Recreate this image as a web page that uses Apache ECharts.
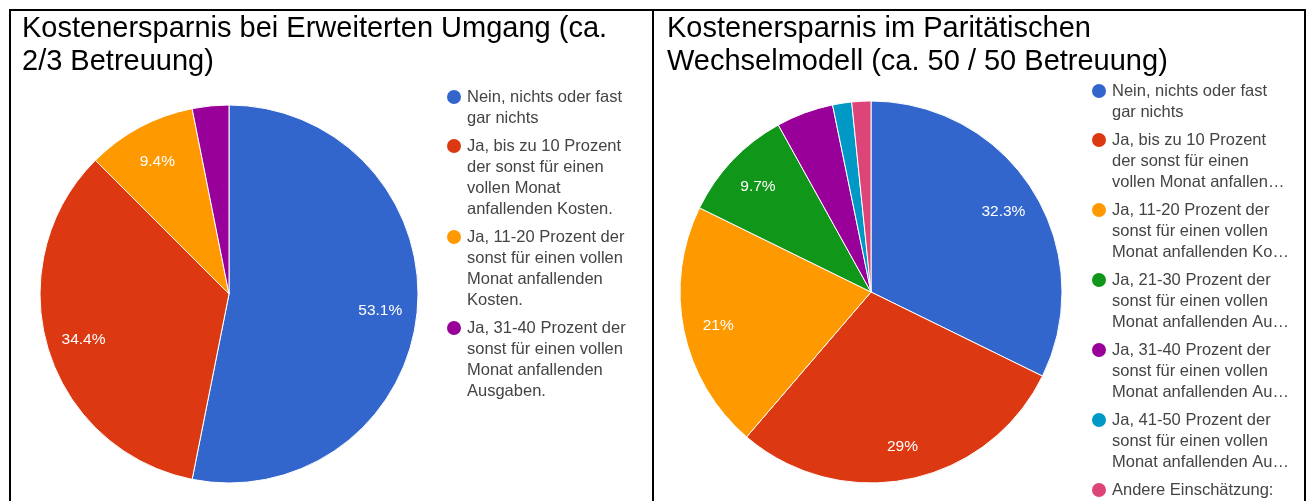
<!DOCTYPE html>
<html>
<head>
<meta charset="utf-8">
<script src="https://cdn.jsdelivr.net/npm/echarts@6/dist/echarts.min.js"></script>
<style>
  html, body { margin: 0; padding: 0; background: #fff; }
  #chart { position: absolute; left: 0; top: 0; width: 1311px; height: 501px; }
  .frame { position: absolute; top: 9px; height: 600px; border: 2px solid #000; box-sizing: border-box; pointer-events: none; }
</style>
</head>
<body>
<div id="chart"></div>
<div class="frame" style="left:9px; width:645px;"></div>
<div class="frame" style="left:652px; width:654px;"></div>
<script>
// Antwortkategorien (volle Namen)
const catNein = 'Nein, nichts oder fast gar nichts';
const cat10 = 'Ja, bis zu 10 Prozent der sonst für einen vollen Monat anfallenden Kosten.';
const cat20 = 'Ja, 11-20 Prozent der sonst für einen vollen Monat anfallenden Kosten.';
const cat30 = 'Ja, 21-30 Prozent der sonst für einen vollen Monat anfallenden Ausgaben.';
const cat40 = 'Ja, 31-40 Prozent der sonst für einen vollen Monat anfallenden Ausgaben.';
const cat50 = 'Ja, 41-50 Prozent der sonst für einen vollen Monat anfallenden Ausgaben.';
const catAndere = 'Andere Einschätzung:';

// linkes Diagramm: Erweiterter Umgang
const leftTitle = 'Kostenersparnis bei Erweiterten Umgang (ca.\n2/3 Betreuung)';
const leftCategories = [catNein, cat10, cat20, cat40];
const leftValues = [17, 11, 3, 1];
const leftColors = ['#3366cc', '#dc3912', '#ff9900', '#990099'];
const leftLegendText = [
  'Nein, nichts oder fast\ngar nichts',
  'Ja, bis zu 10 Prozent\nder sonst für einen\nvollen Monat\nanfallenden Kosten.',
  'Ja, 11-20 Prozent der\nsonst für einen vollen\nMonat anfallenden\nKosten.',
  'Ja, 31-40 Prozent der\nsonst für einen vollen\nMonat anfallenden\nAusgaben.'
];

// rechtes Diagramm: Paritätisches Wechselmodell
const rightTitle = 'Kostenersparnis im Paritätischen\nWechselmodell (ca. 50 / 50 Betreuung)';
const rightCategories = [catNein, cat10, cat20, cat30, cat40, cat50, catAndere];
const rightValues = [20, 18, 13, 6, 3, 1, 1];
const rightColors = ['#3366cc', '#dc3912', '#ff9900', '#109618', '#990099', '#0099c6', '#dd4477'];
const rightLegendText = [
  'Nein, nichts oder fast\ngar nichts',
  'Ja, bis zu 10 Prozent\nder sonst für einen\nvollen Monat anfallen…',
  'Ja, 11-20 Prozent der\nsonst für einen vollen\nMonat anfallenden Ko…',
  'Ja, 21-30 Prozent der\nsonst für einen vollen\nMonat anfallenden Au…',
  'Ja, 31-40 Prozent der\nsonst für einen vollen\nMonat anfallenden Au…',
  'Ja, 41-50 Prozent der\nsonst für einen vollen\nMonat anfallenden Au…',
  'Andere Einschätzung:'
];

const FONT = '"Liberation Sans", Arial, sans-serif';
const LINE_H = 21;

function pieData(cats, vals, colors) {
  return cats.map((c, i) => ({ name: c, value: vals[i], itemStyle: { color: colors[i] } }));
}

// Legendentext: Leerzeilen davor, damit die erste Zeile neben dem Punkt steht
// (ECharts zentriert den Textblock senkrecht am Symbol)
function padLines(txt, minLines) {
  const n = txt.split('\n').length;
  const m = Math.max(n, minLines);
  return '\n'.repeat(m - 1) + txt + '\n'.repeat(m - n);
}

function legendOpt(cats, texts, left, firstY, lines) {
  // Abstand so, dass Einträge 7px Luft haben
  const gap = 28 - LINE_H * lines;
  const firstN = texts[0].split('\n').length;
  return {
    orient: 'vertical',
    left: left,
    top: firstY - (2 * firstN - 1) * LINE_H / 2,
    height: 900,
    padding: 0,
    icon: 'circle',
    itemWidth: 16,
    itemHeight: 16,
    itemGap: gap,
    selectedMode: false,
    data: cats,
    formatter: name => {
      const i = cats.indexOf(name);
      return padLines(texts[i], i > 0 ? lines : 0);
    },
    textStyle: {
      fontFamily: FONT,
      fontSize: 16.5,
      lineHeight: LINE_H,
      color: '#444'
    }
  };
}

function mainPie(cats, vals, colors, center, radius) {
  return {
    type: 'pie',
    center: center,
    radius: radius,
    startAngle: 90,
    data: pieData(cats, vals, colors),
    label: { show: false },
    labelLine: { show: false },
    itemStyle: { borderColor: '#fff', borderWidth: 1 },
    emphasis: { disabled: true }
  };
}

// unsichtbarer Ring nur für die Prozent-Beschriftungen
function labelPie(cats, vals, colors, center, radius) {
  return {
    type: 'pie',
    center: center,
    radius: radius,
    startAngle: 90,
    silent: true,
    percentPrecision: 1,
    data: cats.map((c, i) => ({ name: c, value: vals[i] })),
    itemStyle: { color: 'rgba(0,0,0,0)', borderColor: 'rgba(0,0,0,0)', borderWidth: 0 },
    labelLine: { show: false },
    label: {
      show: true,
      position: 'inside',
      color: '#fff',
      fontFamily: FONT,
      fontSize: 15.5,
      formatter: p => (p.percent < 5 ? '' : p.percent + '%')
    },
    emphasis: { disabled: true }
  };
}

const chart = echarts.init(document.getElementById('chart'), null, { renderer: 'canvas' });
chart.setOption({
  animation: false,
  backgroundColor: '#fff',
  title: [
    {
      text: leftTitle, left: 22, top: 12, padding: 0,
      textStyle: { fontFamily: FONT, fontSize: 29, fontWeight: 'normal', lineHeight: 33, color: '#000' }
    },
    {
      text: rightTitle, left: 667, top: 12, padding: 0,
      textStyle: { fontFamily: FONT, fontSize: 29, fontWeight: 'normal', lineHeight: 33, color: '#000' }
    }
  ],
  legend: [
    legendOpt(leftCategories, leftLegendText, 445, 97, 4),
    legendOpt(rightCategories, rightLegendText, 1090, 91, 3)
  ],
  series: [
    mainPie(leftCategories, leftValues, leftColors, [229, 294], 189),
    mainPie(rightCategories, rightValues, rightColors, [871, 292], 191),
    labelPie(leftCategories, leftValues, leftColors, [229, 296], [124, 174]),
    labelPie(rightCategories, rightValues, rightColors, [871, 294], [128, 178])
  ]
});
</script>
</body>
</html>
